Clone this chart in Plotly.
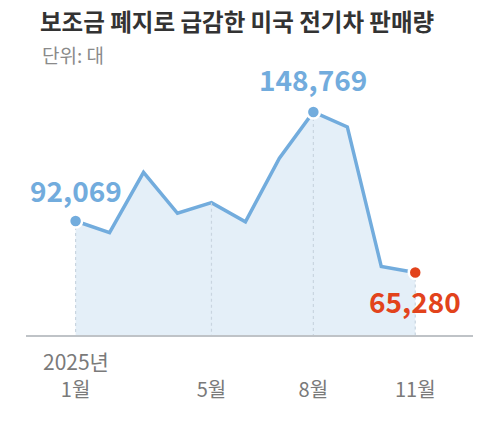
import plotly.graph_objects as go

# 2025 monthly US EV sales (units)
months = [1, 2, 3, 4, 5, 6, 7, 8, 9, 10, 11]
sales = [92069, 86000, 117400, 96100, 101600, 91700, 124700, 148769, 141000, 68400, 65280]
tick_months = [1, 5, 8, 11]
tick_labels = ['1월', '5월', '8월', '11월']
year_label = '2025년'

title = '보조금 폐지로 급감한 미국 전기차 판매량'
subtitle = '단위: 대'

blue = '#72acdd'
red = '#e2431c'
fill = '#e4eff8'
font = 'Noto Sans CJK KR'

y_min, y_max = 32800, 160200

fig = go.Figure()

# area + line
fig.add_trace(go.Scatter(x=months, y=sales, mode='lines',
                         line=dict(color=blue, width=3.5),
                         fill='tozeroy', fillcolor=fill,
                         hoverinfo='skip'))

# dotted drop lines at the labelled months
dx, dy = [], []
for m in tick_months:
    dx += [m, m, None]
    dy += [sales[months.index(m)], y_min, None]
fig.add_trace(go.Scatter(x=dx, y=dy, mode='lines',
                         line=dict(color='#c9d5e0', width=1.2, dash='dot'),
                         hoverinfo='skip'))

# highlighted points
hl = [1, 8, 11]
hl_col = [blue, blue, red]
fig.add_trace(go.Scatter(x=hl, y=[sales[months.index(m)] for m in hl],
                         mode='markers',
                         marker=dict(size=13, color=hl_col,
                                     line=dict(color='white', width=2.5)),
                         hoverinfo='skip'))

# value labels
for m, c, yshift in [(1, blue, 31), (8, blue, 33), (11, red, -28)]:
    v = sales[months.index(m)]
    fig.add_annotation(x=m, y=v, text='<b>{:,}</b>'.format(v), showarrow=False,
                       yshift=yshift, font=dict(size=28, color=c, family=font))

# year above the first tick label
fig.add_annotation(x=1, y=0, yref='paper', yanchor='middle', text=year_label,
                   showarrow=False, yshift=-26,
                   font=dict(size=21, color='#7a7a7a', family=font))

# subtitle
fig.add_annotation(x=(40 - 26) / 447, xref='paper', xanchor='left',
                   y=(335 - 54) / 245, yref='paper', yanchor='middle',
                   text=subtitle, showarrow=False,
                   font=dict(size=19, color='#8a8a8a', family=font))

# page body adds an 8px margin, so the figure is 8px smaller each way
fig.update_layout(
    width=492, height=413,
    margin=dict(l=18, r=27, t=82, b=86),
    paper_bgcolor='white', plot_bgcolor='white',
    showlegend=False,
    font=dict(family=font),
    title=dict(text='<b>' + title + '</b>', x=32 / 492, xanchor='left',
               y=1 - 15 / 413, yanchor='middle', yref='container',
               font=dict(size=23.5, color='#333333', family=font)),
)

fig.update_xaxes(range=[-0.46, 12.7], tickvals=tick_months, ticktext=tick_labels,
                 showgrid=False, zeroline=False, showline=True,
                 linecolor='#bfc3c7', linewidth=1.5,
                 ticks='outside', ticklen=36, tickcolor='rgba(0,0,0,0)',
                 tickfont=dict(size=20, color='#7a7a7a', family=font),
                 automargin=False)
fig.update_yaxes(range=[y_min, y_max], visible=False, automargin=False)

fig.write_html('out.html')
